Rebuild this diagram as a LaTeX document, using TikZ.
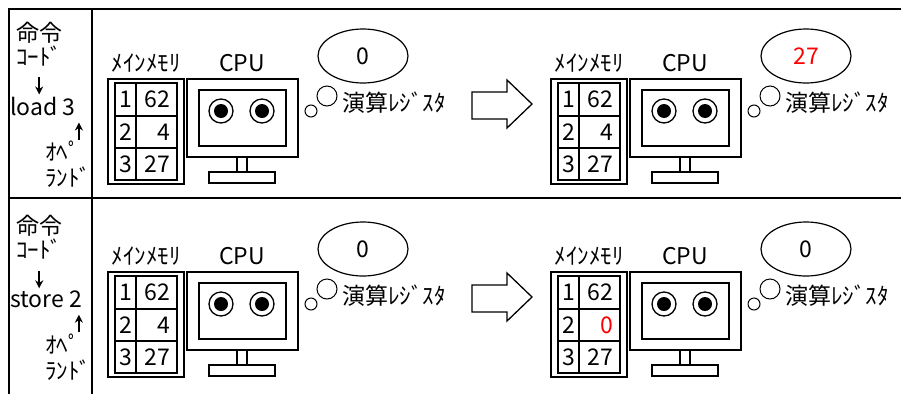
\documentclass[tikz,border=0pt]{standalone}
\usepackage{fontspec}
\setmainfont{Noto Sans CJK JP}
\usepackage{tikz}
\usetikzlibrary{shapes.geometric, arrows.meta, positioning}
\usepackage{xcolor}
\tikzstyle{txt} = [inner sep=0pt, font=\fontsize{23}{26}\selectfont]
\tikzstyle{frameline} = [line width=2pt]
\tikzstyle{part} = [line width=1.3pt]
\tikzstyle{ptr} = [line width=1.5pt, -{Stealth[length=8pt,width=8pt]}]
\tikzstyle{bubble} = [circle, draw, line width=1pt, inner sep=0pt]

% memory + CPU + accumulator; #1,#2 shift, #3 name suffix, #4 register, #5 address 2
\newcommand{\cpupanel}[5]{%
  \begin{scope}[shift={(#1,#2)}]
    % main memory, double border
    \draw[part] (108,79) rectangle (184,184);
    \draw[part] (115,83) rectangle (177,180);
    \draw[part] (115,116) -- (177,116) (115,148) -- (177,148) (136,83) -- (136,180);
    \node (mem#3) [txt] at (146,63) {ﾒｲﾝﾒﾓﾘ};
    \foreach \a/\ry/\v in {1/99.5/62, 2/132/{#5}, 3/164/27} {
      \node (addr#3\a) [txt] at (125.5,\ry) {\a};
      \node (val#3\a) [txt, anchor=east] at (170,\ry) {\v};
    }
    % monitor
    \node (cpu#3) [txt] at (242,63) {CPU};
    \draw[part] (187,79) rectangle (298,157);
    \draw[part] (199,90) rectangle (286,146);
    \foreach \ex in {221,262} {
      \draw[part] (\ex,111) circle (12pt);
      \fill (\ex,111) circle (7pt);
    }
    \draw[part] (237,157) rectangle (247,172);
    \draw[part] (209,172) rectangle (275,183);
    % accumulator
    \node (acc#3) [txt, ellipse, draw, line width=1.2pt, minimum width=90pt, minimum height=54pt] at (363,56) {#4};
    \node (bub#3) [bubble, minimum size=20pt] at (327,96) {};
    \node (dot#3) [bubble, minimum size=12pt] at (311,111) {};
    \node (reg#3) [txt, anchor=west] at (342,103) {演算ﾚｼﾞｽﾀ};
  \end{scope}}

\begin{document}
\begin{tikzpicture}[x=1pt, y=-1pt]
  \useasboundingbox (0,0) rectangle (901,394);
  % table lines
  \draw[frameline] (9,394) -- (9,9) -- (901,9);
  \draw[frameline] (92,9) -- (92,394);
  \draw[frameline] (9,198) -- (901,198);

  \foreach \dy/\ins/\rowid/\regout/\memout in {0/load 3/1/{\textcolor{red}{27}}/4, 193/store 2/2/0/{\textcolor{red}{0}}} {
    \begin{scope}[shift={(0,\dy)}]
      \node (ord\rowid) [txt, anchor=west] at (16,33) {命令};
      \node (code\rowid) [txt, anchor=west] at (16,56) {ｺｰﾄﾞ};
      \node (ins\rowid) [txt, anchor=west] at (10,106) {\ins};
      \node (opr\rowid) [txt, anchor=west] at (45,151) {ｵﾍﾟ};
      \node (land\rowid) [txt, anchor=west] at (45,177) {ﾗﾝﾄﾞ};
      \draw[ptr] ([yshift=19pt]code\rowid.south |- ins\rowid.north) -- ([yshift=2pt]code\rowid.south |- ins\rowid.north);
      \draw[ptr] ([xshift=-1pt,yshift=-24pt]opr\rowid.north east |- ins\rowid.south) -- ([xshift=-1pt,yshift=-7pt]opr\rowid.north east |- ins\rowid.south);
      % hollow arrow between before and after
      \draw[part] (472,92) -- (507,92) -- (507,80) -- (532,104) -- (507,128) -- (507,119) -- (472,119) -- cycle;
    \end{scope}
    \cpupanel{0}{\dy}{b\rowid}{0}{4}
    \cpupanel{443}{\dy}{a\rowid}{\regout}{\memout}
  }
\end{tikzpicture}
\end{document}
